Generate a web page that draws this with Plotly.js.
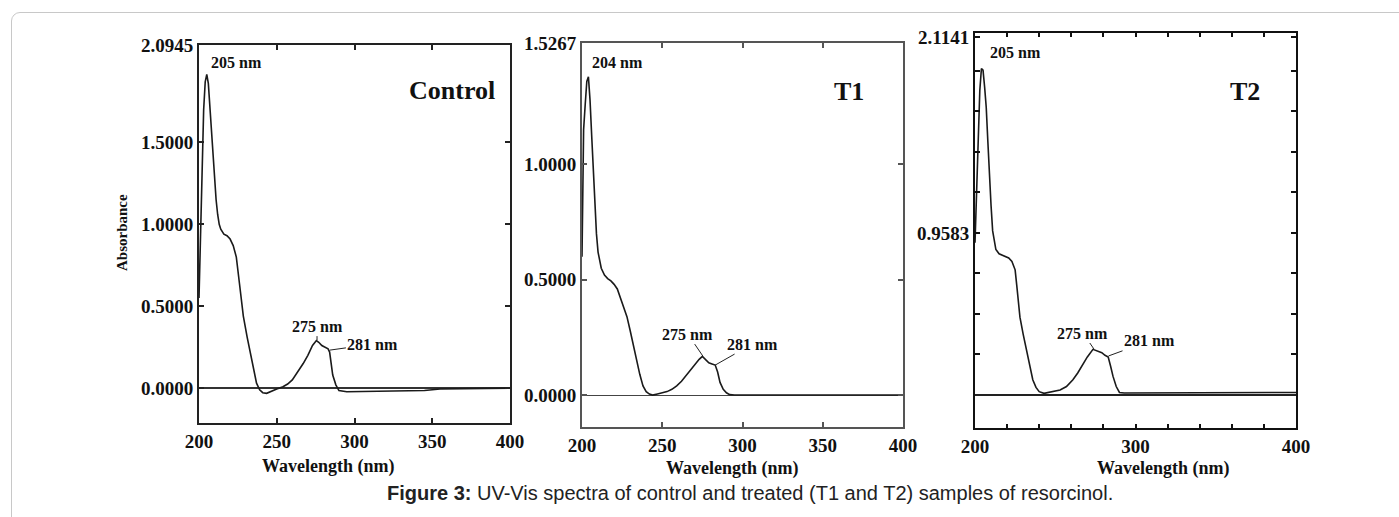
<!DOCTYPE html>
<html>
<head>
<meta charset="utf-8">
<script src="https://cdn.plot.ly/plotly-3.0.1.min.js"></script>
<style>
  html, body { margin: 0; padding: 0; background: #ffffff; }
  #wrap { position: relative; width: 1399px; height: 517px; overflow: hidden; }
  #frame { position: absolute; left: 11px; top: 12px; width: 1420px; height: 540px;
           border: 1px solid #c8c8c8; border-radius: 9px; box-sizing: border-box; }
  #chart { position: absolute; left: 0; top: 0; width: 1399px; height: 517px; }
</style>
</head>
<body>
<div id="wrap">
  <div id="frame"></div>
  <div id="chart"></div>
</div>
<script>
// ---------------- data ----------------
const controlWavelength = [200,201,202,203,204,205,206,207,208,209,210,211,212,213,214,216,218,220,222,223,224,226,228.5,231,233,235,237,239,241,243.5,246,250,254,257,260,263,267,270,273,275.5,277,279,281,283,284,285,286,288,290,295,320,345,355,400];
const controlAbsorbance = [0.55,0.95,1.35,1.70,1.87,1.915,1.86,1.72,1.56,1.42,1.27,1.15,1.06,1.00,0.97,0.94,0.93,0.91,0.87,0.84,0.80,0.64,0.44,0.31,0.22,0.12,0.03,-0.01,-0.028,-0.032,-0.02,-0.005,0.008,0.025,0.05,0.09,0.15,0.20,0.26,0.29,0.28,0.26,0.25,0.24,0.22,0.15,0.08,0.02,-0.015,-0.022,-0.02,-0.015,-0.005,0.0];

const t1Wavelength = [200,200.5,201,202,203,204,205,206,207,208,209,210,211,212,214,216,218,220,222,224,226,228,230,232,234,236,238,240,242,244,247,250,253,256,259,262,265,268,271,273,275,277,279,281,283,284.5,286,288,290,292,295,400];
const t1Absorbance = [0.60,1.05,1.15,1.26,1.36,1.38,1.28,1.13,0.98,0.84,0.70,0.62,0.58,0.55,0.52,0.505,0.495,0.48,0.46,0.42,0.38,0.34,0.28,0.215,0.15,0.09,0.04,0.015,0.004,0.0,0.005,0.01,0.015,0.025,0.04,0.06,0.085,0.115,0.14,0.155,0.168,0.155,0.14,0.135,0.13,0.10,0.055,0.025,0.01,0.002,0.0,0.0];

const t2Wavelength = [200,201,202,203,204,205,206,207,208,209,210,211,212,213,215,218,221,223,225,226,227,228,230,232,234,236,238,240,243,246,250,253,257,261,264,267,270,273.5,276,279,281,283,284.5,286,288,290,293,400];
const t2Absorbance = [0.90,1.25,1.55,1.80,1.93,1.92,1.82,1.70,1.50,1.28,1.12,0.97,0.90,0.86,0.835,0.82,0.81,0.79,0.74,0.65,0.55,0.46,0.36,0.27,0.17,0.09,0.045,0.02,0.01,0.015,0.022,0.03,0.05,0.09,0.13,0.18,0.225,0.27,0.26,0.25,0.235,0.225,0.17,0.11,0.05,0.015,0.012,0.015];

const xTicks50 = [200,250,300,350,400];
const xTicks50Text = ['200','250','300','350','400'];
const controlYTicks = [0,0.5,1.0,1.5,2.0945];
const controlYTickText = ['0.0000','0.5000','1.0000','1.5000','2.0945'];
const t1YTicks = [0,0.5,1.0,1.5267];
const t1YTickText = ['0.0000','0.5000','1.0000','1.5267'];
const t2XTicks = [200,220,240,260,280,300,320,340,360,380,400];
const t2XTickText = ['200','','','','','300','','','','','400'];
const t2YTicks = [0.2396,0.4792,0.7187,0.9583,1.1979,1.4375,1.6770,1.9166,2.1141];
const t2YTickText = ['','','','0.9583','','','','','2.1141'];
const panelNames = ['Control','T1','T2'];
const peakLabels = [['205 nm','275 nm','281 nm'],['204 nm','275 nm','281 nm'],['205 nm','275 nm','281 nm']];

// ---------------- layout helpers ----------------
const W = 1399, H = 517;
const px = x => x / W;
const py = y => 1 - y / H;
const serif = 'Liberation Serif, Times New Roman, serif';
const tickFont = {family: serif, size: 19, color: '#111', weight: 'bold'};

function xa(domain, vals, text, color, width, tlen) {
  return {domain: domain, range: [200, 400], tickmode: 'array', tickvals: vals, ticktext: text,
    ticks: 'inside', ticklen: tlen, tickwidth: width, tickcolor: color, mirror: 'ticks',
    showline: true, linecolor: color, linewidth: width, showgrid: false, zeroline: false,
    tickfont: tickFont, fixedrange: true};
}
function ya(domain, range, vals, text, color, width, anchor, zcolor, zwidth) {
  return {domain: domain, range: range, tickmode: 'array', tickvals: vals, ticktext: text,
    ticks: 'inside', ticklen: 5, tickwidth: width, tickcolor: color, mirror: 'ticks',
    showline: true, linecolor: color, linewidth: width, showgrid: false,
    zeroline: true, zerolinecolor: zcolor, zerolinewidth: zwidth,
    tickfont: tickFont, anchor: anchor, fixedrange: true};
}

const lineStyle = {color: '#1a1a1a', width: 1.6};
const traces = [
  {x: controlWavelength, y: controlAbsorbance, xaxis: 'x', yaxis: 'y', type: 'scatter', mode: 'lines', line: lineStyle, hoverinfo: 'skip'},
  {x: t1Wavelength, y: t1Absorbance, xaxis: 'x2', yaxis: 'y2', type: 'scatter', mode: 'lines', line: lineStyle, hoverinfo: 'skip'},
  {x: t2Wavelength, y: t2Absorbance, xaxis: 'x3', yaxis: 'y3', type: 'scatter', mode: 'lines', line: lineStyle, hoverinfo: 'skip'}
];

const peakFont = {family: serif, size: 16, color: '#111', weight: 'bold'};
const nameFont = {family: serif, size: 26, color: '#111', weight: 'bold'};
const titleFont = {family: serif, size: 18, color: '#111', weight: 'bold'};

function txt(text, x, y, font, extra) {
  return Object.assign({text: text, xref: 'paper', yref: 'paper', x: px(x), y: py(y),
    xanchor: 'center', yanchor: 'middle', showarrow: false, font: font}, extra || {});
}
function arrowTxt(text, xr, yr, x, y, ax, ay) {
  return {text: text, xref: xr, yref: yr, x: x, y: y, ax: ax, ay: ay, showarrow: true,
    arrowhead: 0, arrowwidth: 1, arrowcolor: '#222', standoff: 0, startstandoff: 0, font: peakFont};
}

const annotations = [
  // panel 1
  txt(peakLabels[0][0], 236, 62, peakFont),
  txt(panelNames[0], 452, 90, nameFont),
  arrowTxt(peakLabels[0][1], 'x', 'y', 275.9, 0.293, 0, -14),
  arrowTxt(peakLabels[0][2], 'x', 'y', 284.2, 0.232, 43, -6),
  txt('Absorbance', 122, 232, {family: serif, size: 15, color: '#111', weight: 'bold'}, {textangle: -90}),
  txt('Wavelength (nm)', 328, 466, titleFont),
  // panel 2
  txt(peakLabels[1][0], 617, 63, peakFont),
  txt(panelNames[1], 849, 92, nameFont),
  arrowTxt(peakLabels[1][1], 'x2', 'y2', 275.3, 0.169, -15, -22),
  arrowTxt(peakLabels[1][2], 'x2', 'y2', 283, 0.13, 37, -21),
  txt('Wavelength (nm)', 732, 468, titleFont),
  // panel 3
  txt(peakLabels[2][0], 1015, 52, peakFont),
  txt(panelNames[2], 1245, 91, nameFont),
  arrowTxt(peakLabels[2][1], 'x3', 'y3', 274.1, 0.272, -11, -16),
  arrowTxt(peakLabels[2][2], 'x3', 'y3', 283.2, 0.231, 41, -15),
  txt('Wavelength (nm)', 1163, 468, titleFont),
  // caption
  txt('<b>Figure 3:</b> UV-Vis spectra of control and treated (T1 and T2) samples of resorcinol.', 750, 493,
      {family: 'Liberation Sans, Arial, sans-serif', size: 20, color: '#222'})
];

const layout = {
  width: W, height: H,
  margin: {l: 0, r: 0, t: 0, b: 0, pad: 0},
  paper_bgcolor: 'rgba(0,0,0,0)', plot_bgcolor: 'rgba(0,0,0,0)',
  showlegend: false,
  xaxis:  xa([px(199), px(510)], xTicks50, xTicks50Text, '#222', 2, 5),
  yaxis:  ya([py(423), py(45)], [-0.213, 2.0945], controlYTicks, controlYTickText, '#222', 2, 'x', '#333', 1.5),
  xaxis2: xa([px(582), px(903)], xTicks50, xTicks50Text, '#555', 2, 5),
  yaxis2: ya([py(427), py(43)], [-0.1385, 1.5267], t1YTicks, t1YTickText, '#555', 2, 'x2', '#444', 1),
  xaxis3: xa([px(975), px(1296)], t2XTicks, t2XTickText, '#111', 2, 4),
  yaxis3: ya([py(428), py(33)], [-0.195, 2.14], t2YTicks, t2YTickText, '#111', 2, 'x3', '#222', 1.5),
  annotations: annotations
};
layout.xaxis.anchor = 'y';
layout.xaxis2.anchor = 'y2';
layout.xaxis3.anchor = 'y3';

Plotly.newPlot('chart', traces, layout, {staticPlot: true, displayModeBar: false});
</script>
</body>
</html>
